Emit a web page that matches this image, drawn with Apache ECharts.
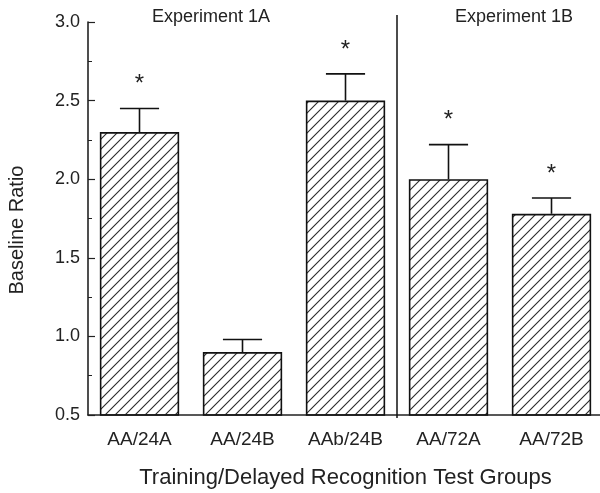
<!DOCTYPE html>
<html><head><meta charset="utf-8">
<script src="https://cdn.jsdelivr.net/npm/echarts@6/dist/echarts.min.js"></script>
<style>html,body{margin:0;padding:0;background:#fff}#c{width:600px;height:493px}</style>
</head><body><div id="c"></div>
<script>
const categories = ['AA/24A', 'AA/24B', 'AAb/24B', 'AA/72A', 'AA/72B'];
const means = [2.30, 0.90, 2.50, 2.00, 1.78];
const errTops = [2.45, 0.98, 2.67, 2.22, 1.88];
const significant = [1, 0, 1, 1, 1];
const yMin = 0.5, yMax = 3.0, yStep = 0.5;
const panelLabels = ['Experiment 1A', 'Experiment 1B'];
const xTitle = 'Training/Delayed Recognition Test Groups';
const yTitle = 'Baseline Ratio';

const FONT = 'Liberation Sans, Arial, Helvetica, sans-serif';
const INK = '#222';

// hatch pattern "/"
const pc = document.createElement('canvas');
pc.width = 10; pc.height = 10;
const g = pc.getContext('2d');
g.strokeStyle = '#2a2a2a'; g.lineWidth = 1.1; g.lineCap = 'square';
g.beginPath();
g.moveTo(0, 10); g.lineTo(10, 0);
g.moveTo(-1, 1); g.lineTo(1, -1);
g.moveTo(9, 11); g.lineTo(11, 9);
g.stroke();

const chart = echarts.init(document.getElementById('c'), null, {renderer: 'canvas'});
chart.setOption({
  animation: false,
  backgroundColor: '#fff',
  title: [
    {text: panelLabels[0], left: 152, top: 8, padding: 0, textStyle: {fontFamily: FONT, fontSize: 18, fontWeight: 'normal', color: INK}},
    {text: panelLabels[1], left: 455, top: 8, padding: 0, textStyle: {fontFamily: FONT, fontSize: 18, fontWeight: 'normal', color: INK}}
  ],
  graphic: [
    {type: 'text', x: 17, y: 230, rotation: Math.PI / 2,
     style: {text: yTitle, align: 'center', verticalAlign: 'middle', font: '20px ' + FONT, fill: INK}}
  ],
  grid: {left: 88, right: -3, top: 22, bottom: 78, containLabel: false, outerBoundsMode: 'none'},
  xAxis: {
    type: 'category', data: categories,
    axisLine: {lineStyle: {color: INK, width: 1.6}},
    axisTick: {show: false},
    axisLabel: {fontFamily: FONT, fontSize: 19, color: INK, margin: 15},
    name: xTitle, nameLocation: 'middle', nameGap: 52,
    nameTextStyle: {fontFamily: FONT, fontSize: 22, color: INK}
  },
  yAxis: {
    type: 'value', min: yMin, max: yMax, interval: yStep,
    axisLine: {show: true, lineStyle: {color: INK, width: 1.6}},
    axisTick: {show: true, inside: true, length: 7, lineStyle: {color: INK, width: 1.2}},
    minorTick: {show: true, splitNumber: 2, length: 4, lineStyle: {color: INK, width: 1}},
    splitLine: {show: false},
    axisLabel: {fontFamily: FONT, fontSize: 18, color: INK, margin: 8, formatter: v => v.toFixed(1)}
  },
  series: [
    {
      type: 'bar', data: means, barWidth: '77%',
      itemStyle: {color: {image: pc, repeat: 'repeat'}, borderColor: '#111', borderWidth: 1.6}
    },
    {
      type: 'custom',
      data: categories.map((c, i) => [i, means[i], errTops[i], significant[i]]),
      encode: {x: 0, y: 2},
      z: 5,
      renderItem: function (params, api) {
        const i = api.value(0);
        const base = api.coord([i, api.value(1)]);
        const top = api.coord([i, api.value(2)]);
        const band = api.size([1, 0])[0];
        const half = band * 0.19;
        const ls = {stroke: '#111', lineWidth: 1.6};
        const children = [
          {type: 'line', shape: {x1: base[0], y1: base[1], x2: top[0], y2: top[1]}, style: ls},
          {type: 'line', shape: {x1: top[0] - half, y1: top[1], x2: top[0] + half, y2: top[1]}, style: ls}
        ];
        if (api.value(3)) {
          children.push({type: 'text', style: {text: '*', x: top[0], y: top[1] - 24, align: 'center', verticalAlign: 'middle', font: '24px ' + FONT, fill: INK}});
        }
        if (i === 2) {
          const xd = base[0] + band / 2;
          const yT = api.coord([i, yMax])[1] - 7;
          const yB = api.coord([i, yMin])[1] + 3;
          children.push({type: 'line', shape: {x1: xd, y1: yT, x2: xd, y2: yB}, style: {stroke: '#111', lineWidth: 1.5}});
        }
        return {type: 'group', children: children};
      }
    }
  ]
});
</script>
</body></html>
